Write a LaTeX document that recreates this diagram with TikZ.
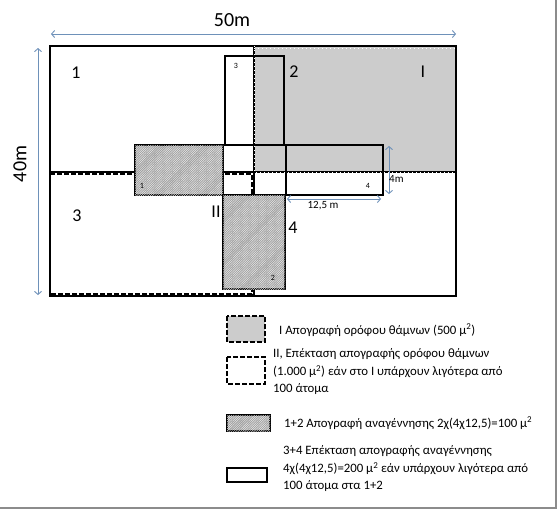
\documentclass[tikz,border=0pt]{standalone}
\usepackage{fontspec}
\setmainfont{Carlito}
\usepackage{tikz}
\usetikzlibrary{arrows.meta, patterns.meta}
\definecolor{plotgrey}{RGB}{204,204,204}
\definecolor{hatchgrey}{RGB}{158,158,158}
\definecolor{hatchlight}{RGB}{235,235,235}
\definecolor{dimblue}{RGB}{110,145,185}
\definecolor{framegrey}{RGB}{140,140,140}
\tikzset{
  plotline/.style={draw=black, line width=1.8pt},
  extline/.style={draw=black, line width=1.8pt, dash pattern=on 5pt off 2pt},
  dotline/.style={draw=white, line width=0.8pt, dash pattern=on 1pt off 3pt},
  hatched/.style={fill=hatchgrey,
    postaction={pattern={Lines[angle=45, distance=1.6pt, line width=0.5pt]}, pattern color=hatchlight}},
  dimline/.style={{Straight Barb[length=3pt,width=7pt]}-{Straight Barb[length=3pt,width=7pt]},
    draw=dimblue, line width=0.9pt},
  zonelab/.style={font=\fontsize{18}{18}\selectfont, inner sep=0pt},
  plotno/.style={font=\fontsize{8}{8}\selectfont, inner sep=0pt},
  dimlab/.style={font=\fontsize{11}{11}\selectfont, inner sep=0pt},
  legtext/.style={anchor=west, align=left, font=\fontsize{12.8}{17.5}\selectfont, inner sep=0pt}
}

\begin{document}
\begin{tikzpicture}[x=1pt, y=-1pt]
  \useasboundingbox (0,0) rectangle (557,509);
  \draw[framegrey, line width=1.5pt] (556,0) -- (556,508) -- (0,508);

  % plot I and the four quarters
  \fill[plotgrey] (254,46) rectangle (456,172);
  \draw[plotline] (50,46) rectangle (456,296);
  \draw[plotline] (254,46) -- (254,296);
  \draw[plotline] (50,172) -- (456,172);
  \draw[dotline] (254,48) -- (456,48);
  \draw[dotline] (254,46) -- (254,172) -- (456,172);
  \draw[extline] (50,174) -- (252,174) -- (252,294) -- (50,294) -- cycle;

  % the four small plots
  \draw[plotline, hatched] (135,145) rectangle (223,195);
  \draw[plotline, hatched] (223,195) rectangle (285,289);
  \draw[plotline] (225,56) rectangle (284,145);
  \draw[plotline] (286,145) rectangle (383,195);

  \node[zonelab] (q1) at (76,73) {1};
  \node[zonelab] (q2) at (294,72) {2};
  \node[zonelab] (qI) at (423,72) {I};
  \node[zonelab] (q3) at (77,216) {3};
  \node[zonelab] (qII) at (216,212) {II};
  \node[zonelab] (q4) at (293,228) {4};
  \node[plotno] (s3) at (236,66) {3};
  \node[plotno] (s1) at (142,186) {1};
  \node[plotno] (s2) at (273,278) {2};
  \node[plotno] (s4) at (368,186) {4};

  % dimensions
  \coordinate (wl) at (51,34);
  \coordinate (wr) at (456,34);
  \draw[dimline] (wl) -- (wr);
  \node[font=\fontsize{20}{20}\selectfont, inner sep=0pt] (wlab) at (232,20) {50m};
  \coordinate (ht) at (38,48);
  \coordinate (hb) at (38,295);
  \draw[dimline] (ht) -- (hb);
  \node[font=\fontsize{20}{20}\selectfont, inner sep=0pt, rotate=90] (hlab) at (20,164) {40m};
  \coordinate (at) at (389,146);
  \coordinate (ab) at (389,194);
  \draw[dimline] (at) -- (ab);
  \node[dimlab, anchor=west] (alab) at (389,179) {4m};
  \coordinate (bl) at (287,199);
  \coordinate (br) at (381,199);
  \draw[dimline] (bl) -- (br);
  \node[dimlab] (blab) at (323,206) {12,5 m};

  % legend
  \draw[extline, fill=plotgrey] (227,316) rectangle (265,342);
  \node[legtext] (leg1) at (279,330) {I Απογραφή ορόφου θάμνων (500 μ\textsuperscript{2})};
  \draw[extline] (227,357) rectangle (265,384);
  \node[legtext] (leg2) at (273,372) {II, Επέκταση απογραφής ορόφου θάμνων\\(1.000 μ\textsuperscript{2}) εάν στο I υπάρχουν λιγότερα από\\100 άτομα};
  \draw[plotline, hatched] (227,415) rectangle (270,431);
  \node[legtext] (leg3) at (284,423) {1+2 Απογραφή αναγέννησης 2χ(4χ12,5)=100 μ\textsuperscript{2}};
  \draw[plotline] (227,468) rectangle (267,482);
  \node[legtext] (leg4) at (283,469) {3+4 Επέκταση απογραφής αναγέννησης\\4χ(4χ12,5)=200 μ\textsuperscript{2} εάν υπάρχουν  λιγότερα από\\100 άτομα στα 1+2};
\end{tikzpicture}
\end{document}
